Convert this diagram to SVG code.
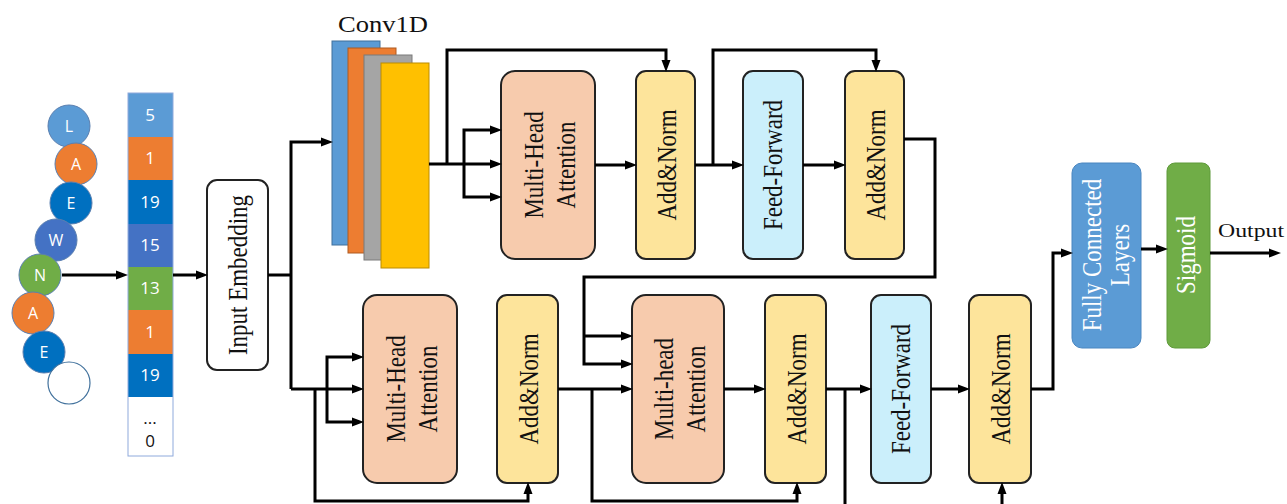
<svg xmlns="http://www.w3.org/2000/svg" width="1287" height="504" viewBox="0 0 1287 504">
<style>
.ser{font-family:"Liberation Serif","Times New Roman",serif;fill:#111}
.rot{font-family:"Liberation Serif","Times New Roman",serif;font-size:23px;fill:#111;text-anchor:middle}
.wt{fill:#fff}
.san{font-family:"Open Sans","Liberation Sans",sans-serif;font-size:16px;text-anchor:middle;fill:#fff}
.num{font-size:17px}
.box{stroke:#222;stroke-width:2}
.mha{fill:#F7CBAD}
.an{fill:#FDE49B}
.ff{fill:#CBEFFB}
.conn path{fill:none;stroke:#000;stroke-width:3}
.circ{stroke:#5a7fb0;stroke-width:1}
</style>
<defs>
<marker id="ah" markerUnits="userSpaceOnUse" markerWidth="12" markerHeight="10" refX="7" refY="5" orient="auto">
<path d="M0,0.5 L12,5 L0,9.5 z" fill="#000"/>
</marker>
</defs>
<rect width="1287" height="504" fill="#fff"/>

<g id="sequence">
<circle class="circ" cx="69" cy="126" r="21" fill="#5B9BD5"/>
<text class="san" x="69" y="132">L</text>
<circle class="circ" cx="76" cy="164" r="21" fill="#ED7D31"/>
<text class="san" x="76" y="170">A</text>
<circle class="circ" cx="71" cy="203" r="21" fill="#0070C0"/>
<text class="san" x="71" y="209">E</text>
<circle class="circ" cx="56" cy="240" r="21" fill="#4472C4"/>
<text class="san" x="56" y="246">W</text>
<circle class="circ" cx="40" cy="275" r="21" fill="#70AD47"/>
<text class="san" x="40" y="281">N</text>
<circle class="circ" cx="33" cy="313" r="21" fill="#ED7D31"/>
<text class="san" x="33" y="319">A</text>
<circle class="circ" cx="44" cy="352" r="21" fill="#0070C0"/>
<text class="san" x="44" y="358">E</text>
<circle cx="69" cy="383" r="21" fill="#fff" stroke="#41719C" stroke-width="1.2"/>
</g>

<g id="encoding">
<rect x="128" y="93" width="45" height="44" fill="#5B9BD5"/>
<rect x="128" y="137" width="45" height="43" fill="#ED7D31"/>
<rect x="128" y="180" width="45" height="44" fill="#0070C0"/>
<rect x="128" y="224" width="45" height="43" fill="#4472C4"/>
<rect x="128" y="267" width="45" height="43" fill="#70AD47"/>
<rect x="128" y="310" width="45" height="44" fill="#ED7D31"/>
<rect x="128" y="354" width="45" height="43" fill="#0070C0"/>
<rect x="128" y="397" width="45" height="59" fill="#fff"/>
<rect x="128" y="93" width="45" height="363" fill="none" stroke="#8FAADC" stroke-width="1"/>
<text class="san num" x="150" y="121">5</text>
<text class="san num" x="150" y="164">1</text>
<text class="san num" x="150" y="208">19</text>
<text class="san num" x="150" y="251">15</text>
<text class="san num" x="150" y="294">13</text>
<text class="san num" x="150" y="338">1</text>
<text class="san num" x="150" y="381">19</text>
<text class="san num" x="150" y="424" style="fill:#111">...</text>
<text class="san num" x="150" y="447" style="fill:#111">0</text>
</g>

<g id="input-embedding">
<rect class="box" x="207" y="180" width="61" height="190" rx="10" fill="#fff"/>
<text class="rot" transform="translate(247,275) scale(1.15,1) rotate(-90)">Input Embedding</text>
</g>

<g id="conv1d">
<text class="ser" x="383" y="32" font-size="23" text-anchor="middle" textLength="90" lengthAdjust="spacingAndGlyphs">Conv1D</text>
<rect x="332" y="41" width="48" height="204" fill="#5B9BD5" stroke="#41719C" stroke-width="1"/>
<rect x="348" y="48" width="48" height="205" fill="#ED7D31" stroke="#AE5A21" stroke-width="1"/>
<rect x="364" y="55" width="48" height="205" fill="#A5A5A5" stroke="#7B7B7B" stroke-width="1"/>
<rect x="381" y="63" width="48" height="205" fill="#FFC000" stroke="#BC8C00" stroke-width="1"/>
</g>

<g id="mha-top">
<rect class="box mha" x="501" y="71" width="94" height="188" rx="14"/>
<text class="rot" transform="translate(543,165) scale(1.15,1) rotate(-90)">Multi-Head</text>
<text class="rot" transform="translate(575,165) scale(1.15,1) rotate(-90)">Attention</text>
</g>
<g id="addnorm-top1">
<rect class="box an" x="636" y="71" width="59" height="188" rx="10"/>
<text class="rot" transform="translate(676,165) scale(1.15,1) rotate(-90)">Add&amp;Norm</text>
</g>
<g id="ff-top">
<rect class="box ff" x="743" y="71" width="60" height="188" rx="10"/>
<text class="rot" transform="translate(782,165) scale(1.15,1) rotate(-90)">Feed-Forward</text>
</g>
<g id="addnorm-top2">
<rect class="box an" x="845" y="71" width="59" height="188" rx="10"/>
<text class="rot" transform="translate(885,165) scale(1.15,1) rotate(-90)">Add&amp;Norm</text>
</g>

<g id="mha-bottom1">
<rect class="box mha" x="363" y="295" width="94" height="188" rx="14"/>
<text class="rot" transform="translate(405,389) scale(1.15,1) rotate(-90)">Multi-Head</text>
<text class="rot" transform="translate(437,389) scale(1.15,1) rotate(-90)">Attention</text>
</g>
<g id="addnorm-bottom1">
<rect class="box an" x="497" y="295" width="61" height="188" rx="10"/>
<text class="rot" transform="translate(538,389) scale(1.15,1) rotate(-90)">Add&amp;Norm</text>
</g>
<g id="mha-bottom2">
<rect class="box mha" x="632" y="295" width="92" height="188" rx="14"/>
<text class="rot" transform="translate(673,389) scale(1.15,1) rotate(-90)">Multi-head</text>
<text class="rot" transform="translate(705,389) scale(1.15,1) rotate(-90)">Attention</text>
</g>
<g id="addnorm-bottom2">
<rect class="box an" x="765" y="295" width="61" height="188" rx="10"/>
<text class="rot" transform="translate(806,389) scale(1.15,1) rotate(-90)">Add&amp;Norm</text>
</g>
<g id="ff-bottom">
<rect class="box ff" x="871" y="295" width="60" height="188" rx="10"/>
<text class="rot" transform="translate(910,389) scale(1.15,1) rotate(-90)">Feed-Forward</text>
</g>
<g id="addnorm-bottom3">
<rect class="box an" x="969" y="295" width="62" height="188" rx="10"/>
<text class="rot" transform="translate(1010,389) scale(1.15,1) rotate(-90)">Add&amp;Norm</text>
</g>

<g id="fc">
<rect x="1072" y="163" width="69" height="185" rx="10" fill="#5B9BD5" stroke="#4a86c0" stroke-width="1"/>
<text class="rot wt" style="fill:#fff" transform="translate(1101,255) scale(1.15,1) rotate(-90)">Fully Connected</text>
<text class="rot wt" style="fill:#fff" transform="translate(1129,255) scale(1.15,1) rotate(-90)">Layers</text>
</g>
<g id="sigmoid">
<rect x="1167" y="163" width="43" height="185" rx="8" fill="#70AD47" stroke="#5f9a3b" stroke-width="1"/>
<text class="rot wt" style="fill:#fff" transform="translate(1195,255) scale(1.15,1) rotate(-90)">Sigmoid</text>
</g>
<g id="output">
<text class="ser" x="1251" y="237" font-size="19" text-anchor="middle" textLength="66" lengthAdjust="spacingAndGlyphs">Output</text>
</g>

<g id="connectors" class="conn">
<path d="M62,275 H123" marker-end="url(#ah)"/>
<path d="M173,275 H203" marker-end="url(#ah)"/>
<path d="M268,275 H291"/>
<path d="M291,389 V142 H328" marker-end="url(#ah)"/>
<path d="M291,389 H359" marker-end="url(#ah)"/>
<path d="M327,389 V357 H359" marker-end="url(#ah)"/>
<path d="M327,389 V422 H359" marker-end="url(#ah)"/>
<path d="M315,389 V501 H528 V487" marker-end="url(#ah)"/>
<path d="M429,164 H497" marker-end="url(#ah)"/>
<path d="M464,164 V130 H497" marker-end="url(#ah)"/>
<path d="M464,164 V197 H497" marker-end="url(#ah)"/>
<path d="M447,164 V50 H666 V67" marker-end="url(#ah)"/>
<path d="M595,165 H632" marker-end="url(#ah)"/>
<path d="M695,165 H739" marker-end="url(#ah)"/>
<path d="M713,165 V50 H876 V67" marker-end="url(#ah)"/>
<path d="M803,165 H841" marker-end="url(#ah)"/>
<path d="M904,139 H935 V277 H584 V364 H628" marker-end="url(#ah)"/>
<path d="M584,336 H628" marker-end="url(#ah)"/>
<path d="M558,389 H628" marker-end="url(#ah)"/>
<path d="M592,389 V501 H797 V487" marker-end="url(#ah)"/>
<path d="M724,389 H761" marker-end="url(#ah)"/>
<path d="M826,389 H867" marker-end="url(#ah)"/>
<path d="M845,389 V512 H1002 V487" marker-end="url(#ah)"/>
<path d="M931,389 H965" marker-end="url(#ah)"/>
<path d="M1031,389 H1053 V253 H1068" marker-end="url(#ah)"/>
<path d="M1141,249 H1163" marker-end="url(#ah)"/>
<path d="M1210,253 H1276" marker-end="url(#ah)"/>
</g>
</svg>
